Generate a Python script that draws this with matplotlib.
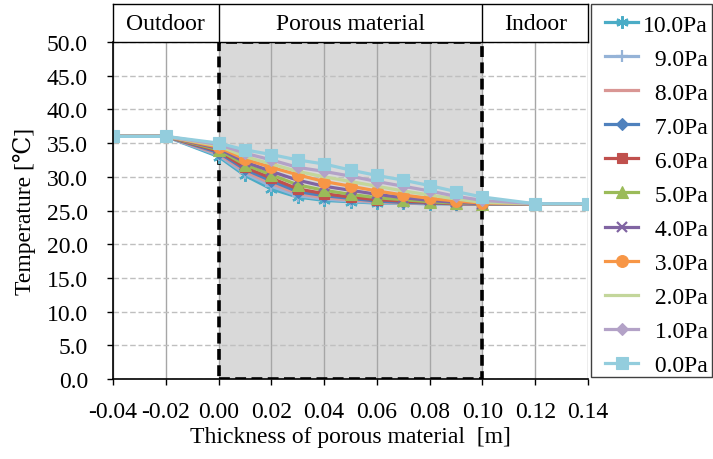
import matplotlib
matplotlib.use("Agg")
import matplotlib.pyplot as plt
from matplotlib.patches import Rectangle

plt.rcParams["font.family"] = ["Liberation Serif", "DejaVu Serif"]
plt.rcParams["axes.unicode_minus"] = False

# thickness positions [m]
x = [-0.04, -0.02, 0.00, 0.01, 0.02, 0.03, 0.04, 0.05, 0.06, 0.07, 0.08, 0.09, 0.10, 0.12, 0.14]

# temperatures [C], one list per pressure difference
t_10pa = [36.0, 36.0, 33.0, 30.2, 28.2, 27.0, 26.5, 26.3, 26.1, 26.1, 26.0, 26.0, 26.0, 26.0, 26.0]
t_9pa = [36.0, 36.0, 33.2, 30.5, 28.6, 27.2, 26.7, 26.4, 26.2, 26.1, 26.0, 26.0, 26.0, 26.0, 26.0]
t_8pa = [36.0, 36.0, 33.4, 30.8, 29.0, 27.5, 26.9, 26.6, 26.3, 26.1, 26.1, 26.0, 26.0, 26.0, 26.0]
t_7pa = [36.0, 36.0, 33.6, 31.1, 29.4, 27.8, 27.2, 26.8, 26.4, 26.2, 26.1, 26.0, 26.0, 26.0, 26.0]
t_6pa = [36.0, 36.0, 33.8, 31.4, 29.8, 28.2, 27.5, 27.0, 26.6, 26.4, 26.2, 26.0, 26.0, 26.0, 26.0]
t_5pa = [36.0, 36.0, 34.0, 31.8, 30.3, 28.8, 28.0, 27.4, 26.9, 26.6, 26.3, 26.1, 26.0, 26.0, 26.0]
t_4pa = [36.0, 36.0, 34.2, 32.2, 30.8, 29.5, 28.6, 28.0, 27.4, 26.9, 26.5, 26.2, 26.0, 26.0, 26.0]
t_3pa = [36.0, 36.0, 34.4, 32.6, 31.4, 30.3, 29.3, 28.6, 27.9, 27.3, 26.8, 26.4, 26.1, 26.0, 26.0]
t_2pa = [36.0, 36.0, 34.6, 33.0, 31.9, 30.8, 30.0, 29.3, 28.6, 27.9, 27.3, 26.7, 26.2, 26.0, 26.0]
t_1pa = [36.0, 36.0, 34.8, 33.5, 32.5, 31.4, 30.8, 30.1, 29.3, 28.6, 27.9, 27.1, 26.5, 26.0, 26.0]
t_0pa = [36.0, 36.0, 35.0, 34.0, 33.3, 32.5, 31.9, 31.0, 30.2, 29.5, 28.7, 27.8, 27.0, 26.0, 26.0]

labels = ["10.0Pa", "\u20079.0Pa", "\u20078.0Pa", "\u20077.0Pa", "\u20076.0Pa", "\u20075.0Pa",
          "\u20074.0Pa", "\u20073.0Pa", "\u20072.0Pa", "\u20071.0Pa", "\u20070.0Pa"]
series = [t_10pa, t_9pa, t_8pa, t_7pa, t_6pa, t_5pa, t_4pa, t_3pa, t_2pa, t_1pa, t_0pa]
colors = ["#4BACC6", "#95B3D7", "#D99694", "#4F81BD", "#C0504D", "#9BBB59",
          "#8064A2", "#F79646", "#C3D69B", "#B3A2C7", "#93CDDD"]
markers = [(6, 2, 0), "+", "None", "D", "s", "^", "x", "o", "None", "D", "s"]
msizes = [9, 9, 0, 6.5, 7.5, 8.5, 7.5, 8.5, 0, 6.5, 8.5]

zones = ["Outdoor", "Porous material", "Indoor"]
zone_edges = [-0.04, 0.00, 0.10, 0.14]

FS = 17

fig = plt.figure(figsize=(7.13, 4.60), dpi=100)
ax = fig.add_axes([113 / 713, 80 / 460, 475 / 713, 337 / 460])

# porous material region
ax.add_patch(Rectangle((0.0, 0.0), 0.10, 50.0, facecolor="#D9D9D9", edgecolor="none", zorder=0.2))
ax.add_patch(Rectangle((0.0, 0.0), 0.10, 50.0, facecolor="none", edgecolor="black",
                       linewidth=2.6, linestyle=(0, (3, 1.5)), zorder=1.5))

for vals, lab, c, m, ms in zip(series, labels, colors, markers, msizes):
    mew = 1.6 if m in ("+", "x") or isinstance(m, tuple) else 0.8
    ax.plot(x, vals, color=c, linewidth=2.3, marker=m, markersize=ms,
            markeredgewidth=mew, markeredgecolor=c, markerfacecolor=c, label=lab, zorder=3)

ax.set_xlim(-0.04, 0.14)
ax.set_ylim(0, 50)
ax.set_xticks([-0.04 + 0.02 * i for i in range(10)])
ax.set_yticks([5 * i for i in range(11)])
ax.xaxis.set_major_formatter(plt.FormatStrFormatter("%.2f"))
ax.yaxis.set_major_formatter(plt.FormatStrFormatter("%.1f"))
ax.tick_params(axis="both", labelsize=FS, direction="out", length=4, width=1, color="black")
ax.tick_params(axis="y", pad=14)
ax.tick_params(axis="x", pad=12)
ax.set_axisbelow(True)
ax.xaxis.grid(True, color="#A6A6A6", linewidth=1.0, linestyle="-")
ax.yaxis.grid(True, color="#BFBFBF", linewidth=1.0, linestyle=(0, (4, 2)))
for side in ("top", "right"):
    ax.spines[side].set_visible(False)
for side in ("left", "bottom"):
    ax.spines[side].set_linewidth(1.2)
    ax.spines[side].set_zorder(4)

ax.set_xlabel("Thickness of porous material  [m]", fontsize=FS, labelpad=3)
ax.set_ylabel("Temperature [\u2103]", fontsize=FS, labelpad=8)

# zone header above the plot
hx = fig.add_axes([113 / 713, 417 / 460, 475 / 713, 38 / 460])
hx.set_xlim(-0.04, 0.14)
hx.set_ylim(0, 1)
hx.set_xticks([])
hx.set_yticks([])
for sp in hx.spines.values():
    sp.set_linewidth(1.0)
for edge in zone_edges[1:-1]:
    hx.axvline(edge, color="black", linewidth=1.0)
for name, a, b in zip(zones, zone_edges[:-1], zone_edges[1:]):
    hx.text((a + b) / 2, 0.5, name, ha="center", va="center", fontsize=FS)

# legend: frame drawn separately so the box can match the reference size
fig.patches.append(Rectangle((591 / 713, 82 / 460), 121 / 713, 373 / 460,
                             transform=fig.transFigure, facecolor="white",
                             edgecolor="#404040", linewidth=1.0, zorder=0))
fig.legend(loc="upper left", bbox_to_anchor=(605 / 713, 445 / 460), fontsize=FS,
           frameon=False, handlelength=1.4, handletextpad=0.2, labelspacing=0.53,
           borderpad=0.0, borderaxespad=0.0)

fig.savefig("out.png", dpi=100)
